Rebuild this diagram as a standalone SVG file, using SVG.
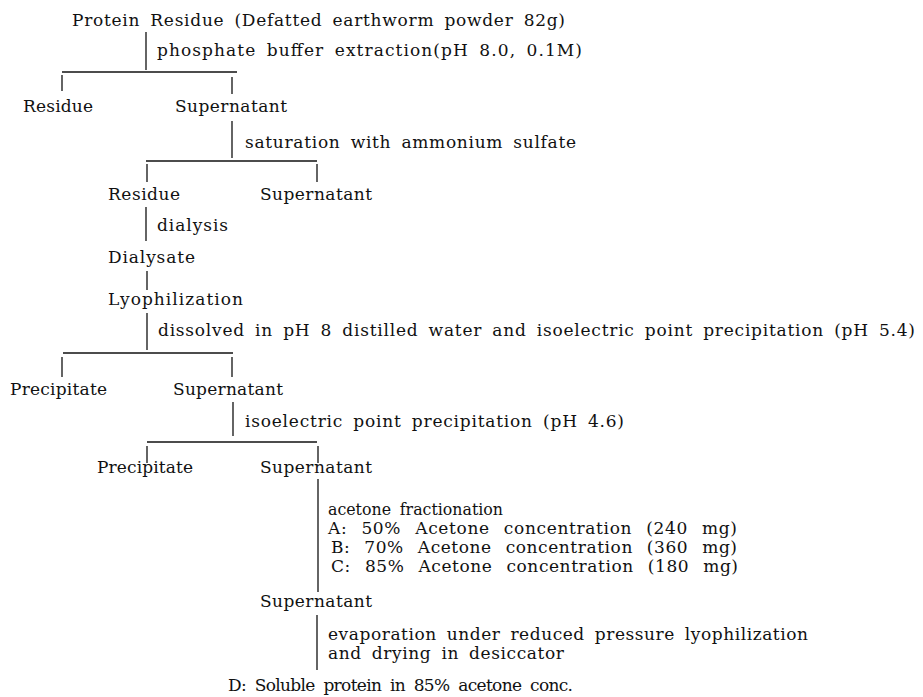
<svg xmlns="http://www.w3.org/2000/svg" width="923" height="697" viewBox="0 0 923 697">
<style>
  text { font-family: "DejaVu Serif", "Liberation Serif", serif; font-size: 17px; fill: #111; word-spacing: 4px; }
  .wide { word-spacing: 8px; }
  .ln { stroke: #111; stroke-width: 1.3; fill: none; }
</style>
<rect width="923" height="697" fill="#fff"/>
<g id="connectors">
  <line class="ln" x1="146" y1="32" x2="146" y2="70"/>
  <line class="ln" x1="62" y1="72" x2="237" y2="72"/>
  <line class="ln" x1="62" y1="75" x2="62" y2="91"/>
  <line class="ln" x1="232" y1="77" x2="232" y2="94"/>
  <line class="ln" x1="232" y1="121" x2="232" y2="158"/>
  <line class="ln" x1="146" y1="161" x2="317" y2="161"/>
  <line class="ln" x1="147" y1="164" x2="147" y2="182"/>
  <line class="ln" x1="317" y1="164" x2="317" y2="182"/>
  <line class="ln" x1="146" y1="207" x2="146" y2="241"/>
  <line class="ln" x1="147" y1="271" x2="147" y2="290"/>
  <line class="ln" x1="147" y1="313" x2="147" y2="350"/>
  <line class="ln" x1="63" y1="353" x2="233" y2="353"/>
  <line class="ln" x1="62" y1="357" x2="62" y2="377"/>
  <line class="ln" x1="232" y1="357" x2="232" y2="377"/>
  <line class="ln" x1="233" y1="402" x2="233" y2="436"/>
  <line class="ln" x1="147" y1="442" x2="317" y2="442"/>
  <line class="ln" x1="147" y1="446" x2="147" y2="463"/>
  <line class="ln" x1="318" y1="446" x2="318" y2="463"/>
  <line class="ln" x1="318" y1="479" x2="318" y2="592"/>
  <line class="ln" x1="317" y1="615" x2="317" y2="670"/>
</g>
<g id="n-protein-residue"><text x="72" y="26" textLength="493" lengthAdjust="spacing">Protein Residue (Defatted earthworm powder 82g)</text></g>
<g id="e-phosphate"><text x="157" y="56" textLength="425" lengthAdjust="spacing">phosphate buffer extraction(pH 8.0, 0.1M)</text></g>
<g id="n-residue-1"><text x="23" y="112" textLength="70" lengthAdjust="spacing">Residue</text></g>
<g id="n-supernatant-1"><text x="175" y="112" textLength="112" lengthAdjust="spacing">Supernatant</text></g>
<g id="e-saturation"><text x="245" y="148" textLength="331" lengthAdjust="spacing">saturation with ammonium sulfate</text></g>
<g id="n-residue-2"><text x="108" y="200" textLength="72" lengthAdjust="spacing">Residue</text></g>
<g id="n-supernatant-2"><text x="260" y="200" textLength="112" lengthAdjust="spacing">Supernatant</text></g>
<g id="e-dialysis"><text x="157" y="231" textLength="71" lengthAdjust="spacing">dialysis</text></g>
<g id="n-dialysate"><text x="108" y="263" textLength="87" lengthAdjust="spacing">Dialysate</text></g>
<g id="n-lyophilization"><text x="108" y="305" textLength="135" lengthAdjust="spacing">Lyophilization</text></g>
<g id="e-dissolved"><text x="158" y="336" textLength="757" lengthAdjust="spacing">dissolved in pH 8 distilled water and isoelectric point precipitation (pH 5.4)</text></g>
<g id="n-precipitate-1"><text x="10" y="395" textLength="97" lengthAdjust="spacing">Precipitate</text></g>
<g id="n-supernatant-3"><text x="173" y="395" textLength="110" lengthAdjust="spacing">Supernatant</text></g>
<g id="e-isoelectric"><text x="245" y="427" textLength="379" lengthAdjust="spacing">isoelectric point precipitation (pH 4.6)</text></g>
<g id="n-precipitate-2"><text x="97" y="473" textLength="96" lengthAdjust="spacing">Precipitate</text></g>
<g id="n-supernatant-4"><text x="260" y="473" textLength="112" lengthAdjust="spacing">Supernatant</text></g>
<g id="e-acetone">
  <text x="328" y="515" textLength="175" lengthAdjust="spacingAndGlyphs">acetone fractionation</text>
  <text class="wide" x="328" y="534" textLength="409" lengthAdjust="spacing">A: 50% Acetone concentration (240 mg)</text>
  <text class="wide" x="331" y="553" textLength="406" lengthAdjust="spacing">B: 70% Acetone concentration (360 mg)</text>
  <text class="wide" x="331" y="572" textLength="407" lengthAdjust="spacing">C: 85% Acetone concentration (180 mg)</text>
</g>
<g id="n-supernatant-5"><text x="260" y="607" textLength="112" lengthAdjust="spacing">Supernatant</text></g>
<g id="e-evaporation">
  <text x="328" y="640" textLength="480" lengthAdjust="spacing">evaporation under reduced pressure lyophilization</text>
  <text x="328" y="659" textLength="236" lengthAdjust="spacing">and drying in desiccator</text>
</g>
<g id="n-soluble-protein"><text x="228" y="691" textLength="345" lengthAdjust="spacing">D: Soluble protein in 85% acetone conc.</text></g>
</svg>
